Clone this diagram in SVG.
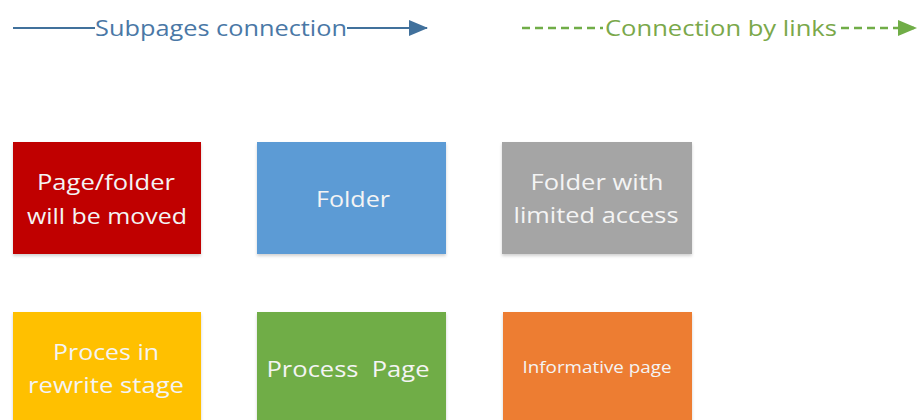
<svg xmlns="http://www.w3.org/2000/svg" width="918" height="420" viewBox="0 0 918 420">
  <style>
    .lbl { font-family: "Open Sans", Lato, "Liberation Sans", sans-serif; font-size: 22px; fill: #f4f4f4; text-anchor: middle; }
    .small { font-size: 16px; }
    .box { filter: url(#shadow); }
    .legend { font-family: "Open Sans", Lato, "Liberation Sans", sans-serif; font-size: 22px; }
    .legend-blue { fill: #4a78a6; }
    .legend-green { fill: #7aa84a; }
    .dash-green { stroke: #70ad47; stroke-width: 2.5; stroke-dasharray: 8,5; }
  </style>
  <defs>
    <filter id="shadow" x="-10%" y="-10%" width="120%" height="125%">
      <feDropShadow dx="0" dy="2" stdDeviation="1.5" flood-color="#000" flood-opacity="0.18"/>
    </filter>
    <marker id="arrowBlue" markerWidth="19" markerHeight="16" refX="18" refY="8" orient="auto" markerUnits="userSpaceOnUse">
      <path d="M0,0 L19,8 L0,16 Z" fill="#41719c"/>
    </marker>
    <marker id="arrowGreen" markerWidth="19" markerHeight="16" refX="18" refY="8" orient="auto" markerUnits="userSpaceOnUse">
      <path d="M0,0 L19,8 L0,16 Z" fill="#70ad47"/>
    </marker>
  </defs>

  <rect width="918" height="420" fill="#ffffff"/>

  <!-- legend connectors -->
  <g id="connectors">
    <line x1="13" y1="28" x2="95" y2="28" stroke="#41719c" stroke-width="2"/>
    <line x1="347" y1="28" x2="427" y2="28" stroke="#41719c" stroke-width="2" marker-end="url(#arrowBlue)"/>
    <line class="dash-green" x1="522" y1="28" x2="603" y2="28"/>
    <line class="dash-green" x1="841" y1="28" x2="916" y2="28" marker-end="url(#arrowGreen)"/>
  </g>
  <text class="legend legend-blue" x="95" y="36" textLength="252" lengthAdjust="spacingAndGlyphs">Subpages connection</text>
  <text class="legend legend-green" x="605" y="36" textLength="232" lengthAdjust="spacingAndGlyphs">Connection by links</text>

  <!-- top row -->
  <g id="node-moved">
    <rect class="box" x="13" y="142" width="188" height="112" fill="#c00000"/>
    <text class="lbl" x="106" y="190" textLength="138" lengthAdjust="spacingAndGlyphs">Page/folder</text>
    <text class="lbl" x="107" y="224" textLength="160" lengthAdjust="spacingAndGlyphs">will be moved</text>
  </g>
  <g id="node-folder">
    <rect class="box" x="257" y="142" width="189" height="112" fill="#5b9bd5"/>
    <text class="lbl" x="353" y="207" textLength="74" lengthAdjust="spacingAndGlyphs">Folder</text>
  </g>
  <g id="node-limited">
    <rect class="box" x="502" y="142" width="190" height="112" fill="#a5a5a5"/>
    <text class="lbl" x="597" y="190" textLength="133" lengthAdjust="spacingAndGlyphs">Folder with</text>
    <text class="lbl" x="596" y="223" textLength="165" lengthAdjust="spacingAndGlyphs">limited access</text>
  </g>

  <!-- bottom row -->
  <g id="node-rewrite">
    <rect class="box" x="13" y="312" width="188" height="120" fill="#ffc000"/>
    <text class="lbl" x="106" y="360" textLength="106" lengthAdjust="spacingAndGlyphs">Proces in</text>
    <text class="lbl" x="106" y="393" textLength="156" lengthAdjust="spacingAndGlyphs">rewrite stage</text>
  </g>
  <g id="node-process">
    <rect class="box" x="257" y="312" width="189" height="120" fill="#70ad47"/>
    <text class="lbl" x="348" y="377" textLength="163" lengthAdjust="spacingAndGlyphs" xml:space="preserve">Process  Page</text>
  </g>
  <g id="node-informative">
    <rect class="box" x="503" y="312" width="189" height="120" fill="#ed7d31"/>
    <text class="lbl small" x="597" y="373" textLength="149" lengthAdjust="spacingAndGlyphs">Informative page</text>
  </g>
</svg>
